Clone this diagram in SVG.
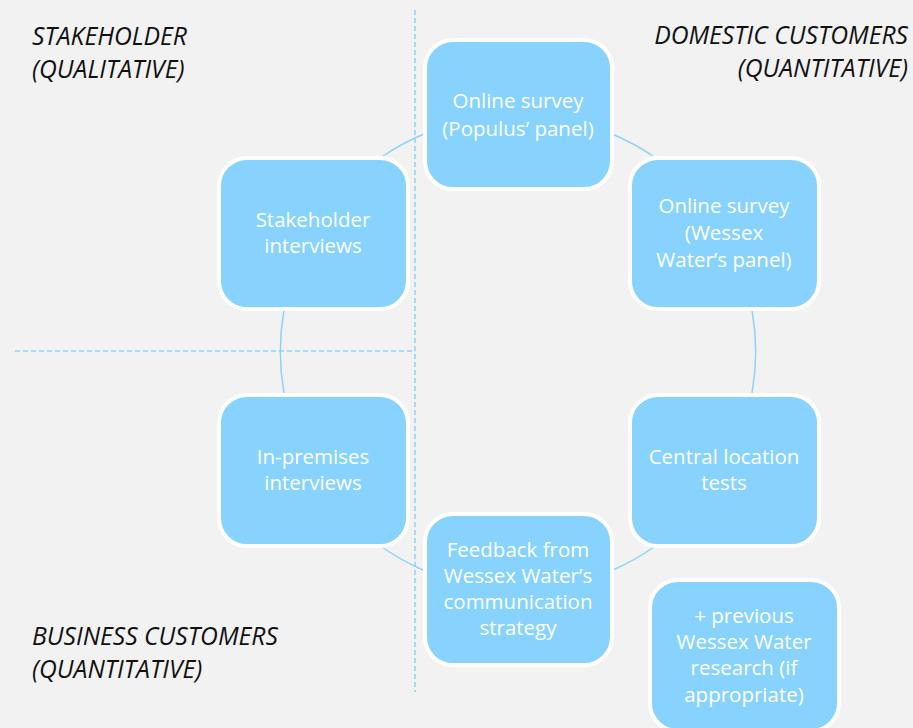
<svg xmlns="http://www.w3.org/2000/svg" width="913" height="728" viewBox="0 0 913 728">
  <style>
    .bg { fill: #f2f2f2; }
    .box { fill: #87d3fd; stroke: #ffffff; stroke-width: 4; }
    .label { font-family: "Open Sans", "Liberation Sans", sans-serif; font-size: 20.5px; fill: #ffffff; text-anchor: middle; }
    .quad { font-family: "Open Sans", "Liberation Sans", sans-serif; font-size: 24.7px; font-style: italic; fill: #111111; }
    .guide { stroke: #8dd3f7; stroke-width: 1.5; stroke-dasharray: 5 3; fill: none; }
    .arc { stroke: #8dd3f7; stroke-width: 1.5; fill: none; }
  </style>
  <rect class="bg" x="0" y="0" width="913" height="728"/>

  <!-- quadrant guides -->
  <g id="guides">
    <line class="guide" x1="415" y1="10" x2="415" y2="692"/>
    <line class="guide" x1="15" y1="351" x2="415" y2="351"/>
  </g>

  <!-- quadrant headings -->
  <g id="headings">
    <text class="quad" x="32" y="45">STAKEHOLDER</text>
    <text class="quad" x="32" y="78">(QUALITATIVE)</text>
    <text class="quad" x="908" y="44" text-anchor="end">DOMESTIC CUSTOMERS</text>
    <text class="quad" x="908" y="77" text-anchor="end">(QUANTITATIVE)</text>
    <text class="quad" x="32" y="645">BUSINESS CUSTOMERS</text>
    <text class="quad" x="32" y="678">(QUANTITATIVE)</text>
  </g>

  <!-- ring of connectors (circle centre 518,352, r 238) -->
  <g id="connectors">
    <path class="arc" d="M612,134 A238,238 0 0 1 653,156"/>
    <path class="arc" d="M752,310 A238,238 0 0 1 752,393"/>
    <path class="arc" d="M654,547 A238,238 0 0 1 613,570"/>
    <path class="arc" d="M423,570 A238,238 0 0 1 382,547"/>
    <path class="arc" d="M284,393 A238,238 0 0 1 284,310"/>
    <path class="arc" d="M383,156 A238,238 0 0 1 424,134"/>
  </g>

  <g id="online-survey-populus">
    <rect class="box" x="425" y="40" width="187" height="149" rx="28"/>
    <text class="label" x="518" y="108">Online survey</text>
    <text class="label" x="518" y="136">(Populus’ panel)</text>
  </g>

  <g id="stakeholder-interviews">
    <rect class="box" x="219" y="158" width="189" height="151" rx="28"/>
    <text class="label" x="313" y="227">Stakeholder</text>
    <text class="label" x="313" y="253">interviews</text>
  </g>

  <g id="online-survey-wessex">
    <rect class="box" x="630" y="158" width="189" height="151" rx="28"/>
    <text class="label" x="724" y="213">Online survey</text>
    <text class="label" x="724" y="240">(Wessex</text>
    <text class="label" x="724" y="267">Water’s panel)</text>
  </g>

  <g id="in-premises-interviews">
    <rect class="box" x="219" y="395" width="189" height="151" rx="28"/>
    <text class="label" x="313" y="464">In-premises</text>
    <text class="label" x="313" y="490">interviews</text>
  </g>

  <g id="central-location-tests">
    <rect class="box" x="630" y="395" width="189" height="151" rx="28"/>
    <text class="label" x="724" y="464">Central location</text>
    <text class="label" x="724" y="490">tests</text>
  </g>

  <g id="feedback-communication">
    <rect class="box" x="425" y="514" width="187" height="151" rx="28"/>
    <text class="label" x="518" y="557">Feedback from</text>
    <text class="label" x="518" y="583">Wessex Water’s</text>
    <text class="label" x="518" y="609">communication</text>
    <text class="label" x="518" y="635">strategy</text>
  </g>

  <g id="previous-research">
    <rect class="box" x="650" y="580" width="189" height="151" rx="28"/>
    <text class="label" x="744" y="623">+ previous</text>
    <text class="label" x="744" y="649">Wessex Water</text>
    <text class="label" x="744" y="675">research (if</text>
    <text class="label" x="744" y="702">appropriate)</text>
  </g>
</svg>
